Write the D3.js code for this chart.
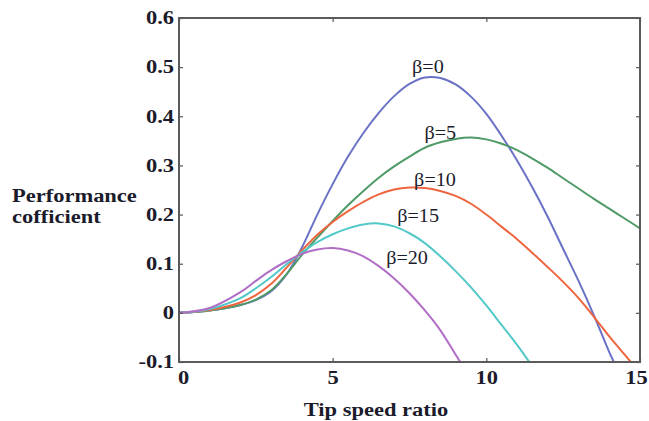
<!DOCTYPE html>
<html>
<head>
<meta charset="utf-8">
<script src="https://cdn.jsdelivr.net/npm/d3@7"></script>
<style>
  body { margin: 0; background: #fff; }
  svg { display: block; }
  text { font-family: "Liberation Serif", "Times New Roman", serif; fill: #1b1b2b; }
</style>
</head>
<body>
<div id="container"></div>
<script>
// tip speed ratio values and performance coefficient for each curve
let tsr0 = [0, 1, 2, 2.5, 3, 3.5, 4, 4.5, 5, 5.5, 6, 6.5, 7, 7.5, 8, 8.5, 9, 9.5, 10, 10.5, 11, 11.5, 12, 12.5, 13, 13.5, 14, 14.15]
let cp0 = [0, 0.005, 0.016, 0.026, 0.044, 0.078, 0.133, 0.2, 0.262, 0.318, 0.366, 0.407, 0.441, 0.466, 0.479, 0.478, 0.465, 0.44, 0.405, 0.36, 0.31, 0.255, 0.195, 0.13, 0.065, -0.005, -0.08, -0.1]

let tsr5 = [0, 1, 2, 2.5, 3, 3.5, 4, 4.5, 5, 5.5, 6, 6.5, 7, 7.5, 8, 8.5, 9, 9.5, 10, 10.5, 11, 11.5, 12, 12.5, 13, 13.5, 14, 14.5, 15]
let cp5 = [0, 0.005, 0.016, 0.027, 0.046, 0.079, 0.118, 0.153, 0.187, 0.219, 0.248, 0.275, 0.298, 0.318, 0.336, 0.347, 0.354, 0.357, 0.353, 0.344, 0.331, 0.314, 0.295, 0.274, 0.253, 0.232, 0.212, 0.192, 0.172]

let tsr10 = [0, 1, 2, 2.5, 3, 3.5, 4, 4.5, 5, 5.5, 6, 6.5, 7, 7.5, 8, 8.5, 9, 9.5, 10, 10.5, 11, 11.5, 12, 12.5, 13, 13.5, 14, 14.5, 14.7]
let cp10 = [0, 0.006, 0.021, 0.036, 0.059, 0.092, 0.127, 0.159, 0.185, 0.207, 0.226, 0.241, 0.251, 0.255, 0.254, 0.248, 0.238, 0.222, 0.2, 0.175, 0.15, 0.122, 0.093, 0.063, 0.03, -0.008, -0.048, -0.085, -0.1]

let tsr15 = [0, 1, 2, 2.5, 3, 3.5, 4, 4.5, 5, 5.5, 6, 6.5, 7, 7.5, 8, 8.5, 9, 9.5, 10, 10.5, 11, 11.4]
let cp15 = [0, 0.008, 0.03, 0.05, 0.073, 0.099, 0.123, 0.144, 0.16, 0.172, 0.18, 0.182, 0.176, 0.162, 0.142, 0.115, 0.085, 0.052, 0.015, -0.025, -0.065, -0.1]

let tsr20 = [0, 1, 2, 2.5, 3, 3.5, 4, 4.5, 5, 5.5, 6, 6.5, 7, 7.5, 8, 8.5, 9, 9.15]
let cp20 = [0, 0.01, 0.042, 0.065, 0.087, 0.105, 0.12, 0.129, 0.132, 0.127, 0.115, 0.095, 0.07, 0.04, 0.005, -0.035, -0.085, -0.1]

let seriesNames = ['β=0', 'β=5', 'β=10', 'β=15', 'β=20']
let seriesColors = ['#6a72c6', '#4f9a66', '#ef6540', '#52c8c8', '#b06ec6']
// where each β label sits, in chart units
let labelTsr = [8.1, 8.5, 8.33, 7.78, 7.42]
let labelCp = [0.488, 0.354, 0.259, 0.184, 0.1]

let xTicks = [0, 5, 10, 15]
let yTicks = [-0.1, 0, 0.1, 0.2, 0.3, 0.4, 0.5, 0.6]

let series = [[tsr0, cp0], [tsr5, cp5], [tsr10, cp10], [tsr15, cp15], [tsr20, cp20]]

let width = 649, height = 421,
  margin = { top: 18, left: 179, right: 9, bottom: 59 },
  w = width - margin.left - margin.right,
  h = height - margin.top - margin.bottom,
  sx = 1.25  // the picture is stretched sideways

let svg = d3.select('#container')
  .append('svg')
  .attr('width', width)
  .attr('height', height)

let g = svg.append('g')
  .attr('transform', 'translate(' + margin.left + ',' + margin.top + ')')

let x = d3.scaleLinear().domain([0, 15]).range([0, w])
let y = d3.scaleLinear().domain([-0.1, 0.6]).range([h, 0])

g.append('clipPath').attr('id', 'clip')
  .append('rect').attr('width', w).attr('height', h)

// lines
let line = d3.line()
  .x(function (d) { return x(d[0]) })
  .y(function (d) { return y(d[1]) })
  .curve(d3.curveCatmullRom.alpha(0.5))

series.forEach(function (s, i) {
  let pts = s[0].map(function (t, j) { return [t, s[1][j]] })
  g.append('path')
    .attr('d', line(pts))
    .attr('clip-path', 'url(#clip)')
    .style('fill', 'none')
    .style('stroke', seriesColors[i])
    .style('stroke-width', 2)
})

// axes, ticks pointing inward
function stretch(sel) {
  sel.selectAll('text').each(function () {
    let t = d3.select(this)
    t.attr('x', (+t.attr('x') || 0) / sx).attr('transform', 'scale(' + sx + ',1)')
  })
}

let fmt = function (d) { return d === 0 ? '0' : d.toFixed(1) }

let yAxis = g.append('g')
  .call(d3.axisLeft(y).tickValues(yTicks).tickFormat(fmt).tickSizeInner(-4).tickSizeOuter(0).tickPadding(5))
let xAxis = g.append('g')
  .attr('transform', 'translate(0,' + h + ')')
  .call(d3.axisBottom(x).tickValues(xTicks).tickSizeInner(-4).tickSizeOuter(0).tickPadding(9))
g.append('g')
  .attr('transform', 'translate(' + w + ',0)')
  .call(d3.axisRight(y).tickValues(yTicks).tickFormat('').tickSizeInner(-4).tickSizeOuter(0))
g.append('g')
  .call(d3.axisTop(x).tickValues(xTicks).tickFormat('').tickSizeInner(-4).tickSizeOuter(0))

g.selectAll('.domain').remove()
g.selectAll('.tick line').style('stroke', '#555').style('stroke-width', 1.2)
g.selectAll('.tick text')
  .style('font-size', '18px')
  .style('font-weight', 'bold')
  .style('font-family', '"Liberation Serif", serif')
  .style('fill', '#1b1b2b')
stretch(yAxis)
stretch(xAxis)
// first and last x labels sit a little inside, as in the picture
xAxis.selectAll('.tick text').filter(function (d) { return d === 0 }).attr('x', 4 / sx)
xAxis.selectAll('.tick text').filter(function (d) { return d === 15 }).attr('x', -4 / sx)

g.append('rect')
  .attr('width', w)
  .attr('height', h)
  .style('fill', 'none')
  .style('stroke', '#5a5a5a')
  .style('stroke-width', 2)

// β labels
seriesNames.forEach(function (n, i) {
  g.append('text')
    .attr('transform', 'translate(' + x(labelTsr[i]) + ',' + y(labelCp[i]) + ') scale(1.12,1)')
    .style('text-anchor', 'middle')
    .style('font-size', '18px')
    .text(n)
})

// axis titles
svg.append('text')
  .attr('transform', 'translate(376,416) scale(' + sx + ',1)')
  .style('text-anchor', 'middle')
  .style('font-size', '18px')
  .style('font-weight', 'bold')
  .text('Tip speed ratio')

let ylab = svg.append('text')
  .attr('transform', 'translate(12,202) scale(' + sx + ',1)')
  .style('font-size', '18px')
  .style('font-weight', 'bold')
ylab.append('tspan').attr('x', 0).attr('y', 0).text('Performance')
ylab.append('tspan').attr('x', 0).attr('y', 21).text('cofficient')
</script>
</body>
</html>
